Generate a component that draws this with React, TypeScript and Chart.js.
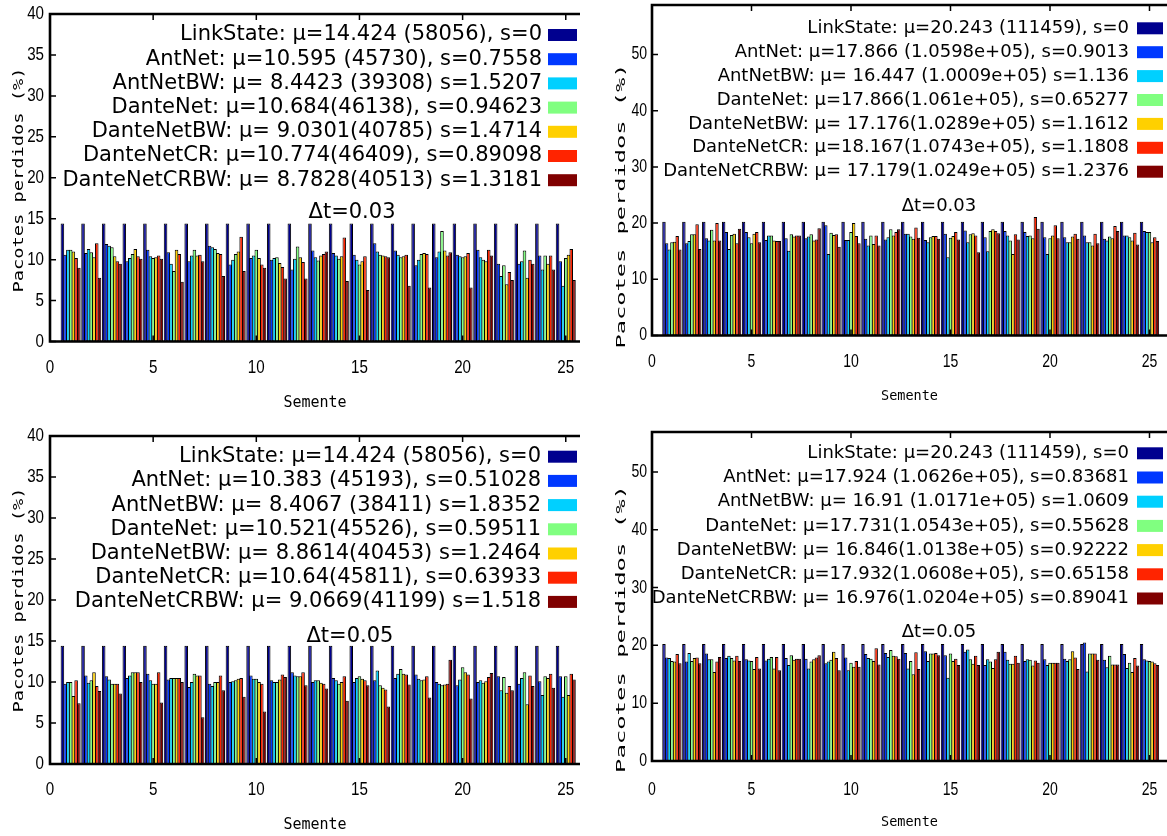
import React, { useEffect, useRef } from "react";
import { Chart, registerables } from "chart.js";
Chart.register(...registerables);

// ---------- data ----------
const seeds = [1, 2, 3, 4, 5, 6, 7, 8, 9, 10, 11, 12, 13, 14, 15, 16, 17, 18, 19, 20, 21, 22, 23, 24, 25];
const seriesColors = ["#00008f", "#0038ff", "#00d0ff", "#80ff80", "#ffd000", "#ff2400", "#800000"];
const yTitle = "Pacotes perdidos (%)";
const xTitle = "Semente";

// top-left (Δt=0.03, scale 40)
const tlLinkState = [14.424, 14.424, 14.424, 14.424, 14.424, 14.424, 14.424, 14.424, 14.424, 14.424, 14.424, 14.424, 14.424, 14.424, 14.424, 14.424, 14.424, 14.424, 14.424, 14.424, 14.424, 14.424, 14.424, 14.424, 14.424];
const tlAntNet = [10.6, 10.8, 11.9, 9.8, 11.2, 10.9, 9.8, 11.7, 9.4, 10.2, 10.0, 8.8, 11.1, 10.8, 10.6, 12.0, 11.1, 9.3, 10.3, 10.6, 11.2, 9.5, 9.5, 10.5, 9.8];
const tlAntNetBW = [11.2, 11.3, 11.7, 10.2, 10.4, 9.5, 10.5, 11.5, 10.0, 10.5, 10.2, 10.1, 10.3, 10.5, 10.0, 11.0, 10.6, 10.0, 11.0, 10.4, 10.3, 8.0, 9.8, 8.8, 6.8];
const tlDanteNet = [11.2, 10.9, 11.5, 10.7, 10.2, 8.6, 11.2, 11.3, 10.7, 11.2, 10.3, 11.6, 9.9, 10.1, 9.4, 10.6, 10.3, 10.7, 13.5, 10.3, 10.0, 9.3, 11.1, 10.5, 10.2];
const tlDanteNetBW = [11.0, 10.3, 10.4, 11.3, 10.3, 11.2, 10.5, 10.8, 11.0, 10.2, 9.6, 10.3, 10.5, 10.4, 9.8, 10.5, 10.4, 10.8, 11.1, 10.4, 9.8, 7.0, 7.8, 9.5, 10.6];
const tlDanteNetCR = [10.2, 12.0, 9.8, 10.4, 10.5, 10.7, 10.6, 10.7, 12.8, 9.4, 9.1, 9.7, 10.7, 12.7, 10.4, 10.4, 10.6, 10.7, 10.5, 10.8, 11.2, 8.5, 10.0, 10.5, 11.3];
const tlDanteNetCRBW = [9.0, 7.8, 9.5, 10.1, 10.1, 7.3, 9.8, 8.0, 8.6, 9.0, 7.7, 7.7, 11.0, 7.4, 6.3, 10.3, 6.8, 6.6, 10.9, 6.6, 10.5, 7.5, 9.5, 8.8, 7.5];
const tlLabels = [
  "LinkState: μ=14.424 (58056), s=0",
  "AntNet: μ=10.595 (45730), s=0.7558",
  "AntNetBW: μ= 8.4423 (39308) s=1.5207",
  "DanteNet: μ=10.684(46138), s=0.94623",
  "DanteNetBW: μ= 9.0301(40785) s=1.4714",
  "DanteNetCR: μ=10.774(46409), s=0.89098",
  "DanteNetCRBW: μ= 8.7828(40513) s=1.3181",
];

// top-right (Δt=0.03, scale 60)
const trLinkState = [20.243, 20.243, 20.243, 20.243, 20.243, 20.243, 20.243, 20.243, 20.243, 20.243, 20.243, 20.243, 20.243, 20.243, 20.243, 20.243, 20.243, 20.243, 20.243, 20.243, 20.243, 20.243, 20.243, 20.243, 20.243];
const trAntNet = [16.4, 16.4, 17.3, 18.4, 18.4, 17.0, 17.3, 17.3, 19.6, 17.0, 17.2, 17.1, 18.1, 17.0, 18.1, 18.7, 17.5, 18.6, 18.4, 17.5, 17.5, 17.8, 17.2, 17.8, 18.6];
const trAntNetBW = [15.3, 16.8, 16.9, 15.4, 17.5, 17.8, 15.1, 17.6, 14.5, 17.0, 16.0, 17.5, 18.1, 16.6, 13.9, 16.6, 15.0, 17.8, 17.7, 14.5, 16.6, 16.6, 16.9, 17.8, 18.4];
const trDanteNet = [16.6, 18.0, 18.8, 17.9, 16.4, 17.8, 18.0, 18.0, 18.3, 18.4, 17.8, 18.9, 17.6, 17.5, 17.4, 18.0, 18.6, 16.9, 17.8, 17.3, 16.6, 16.6, 17.6, 17.5, 18.4];
const trDanteNetBW = [16.7, 18.0, 16.9, 18.1, 18.1, 16.9, 17.6, 16.9, 17.9, 20.0, 16.3, 17.8, 17.2, 17.7, 17.7, 18.2, 18.9, 14.5, 17.3, 17.8, 17.6, 16.0, 17.3, 16.9, 16.6];
const trDanteNetCR = [17.7, 19.8, 20.0, 16.4, 18.4, 16.8, 17.8, 17.1, 18.0, 17.7, 17.8, 18.4, 19.2, 17.7, 18.4, 17.8, 18.6, 18.0, 21.1, 19.6, 18.1, 18.1, 19.5, 18.3, 17.5];
const trDanteNetCRBW = [15.3, 15.4, 16.9, 19.0, 16.6, 16.8, 17.8, 19.1, 15.8, 16.4, 16.0, 18.9, 17.4, 17.2, 17.1, 14.8, 18.2, 17.1, 19.0, 17.3, 17.2, 16.4, 18.6, 16.2, 16.8];
const trLabels = [
  "LinkState: μ=20.243 (111459), s=0",
  "AntNet: μ=17.866 (1.0598e+05), s=0.9013",
  "AntNetBW: μ= 16.447 (1.0009e+05) s=1.136",
  "DanteNet: μ=17.866(1.061e+05), s=0.65277",
  "DanteNetBW: μ= 17.176(1.0289e+05) s=1.1612",
  "DanteNetCR: μ=18.167(1.0743e+05), s=1.1808",
  "DanteNetCRBW: μ= 17.179(1.0249e+05) s=1.2376",
];

// bottom-left (Δt=0.05, scale 40)
const blLinkState = [14.424, 14.424, 14.424, 14.424, 14.424, 14.424, 14.424, 14.424, 14.424, 14.424, 14.424, 14.424, 14.424, 14.424, 14.424, 14.424, 14.424, 14.424, 14.424, 14.424, 14.424, 14.424, 14.424, 14.424, 14.424];
const blAntNet = [9.8, 10.8, 10.7, 10.5, 11.0, 10.3, 9.4, 9.8, 10.0, 10.8, 10.2, 11.2, 10.0, 10.5, 10.0, 10.2, 10.5, 10.9, 10.0, 9.6, 10.0, 10.7, 9.8, 10.1, 10.7];
const blAntNetBW = [10.0, 9.9, 10.3, 10.8, 10.2, 10.5, 10.0, 9.5, 10.1, 10.4, 10.0, 10.8, 10.2, 10.2, 10.5, 11.4, 11.0, 10.4, 9.8, 10.3, 10.2, 9.0, 10.5, 8.4, 8.2];
const blDanteNet = [10.0, 10.2, 9.8, 11.2, 9.8, 10.5, 11.0, 10.0, 10.2, 10.4, 10.0, 10.7, 10.2, 9.8, 10.7, 9.6, 11.6, 10.2, 9.6, 11.8, 9.9, 10.6, 11.2, 10.7, 10.7];
const blDanteNetBW = [8.3, 11.2, 9.8, 11.2, 9.8, 10.5, 10.8, 10.0, 10.4, 10.0, 10.3, 10.7, 9.9, 10.0, 10.4, 9.3, 11.0, 10.3, 9.7, 11.2, 10.1, 8.7, 7.3, 10.5, 8.4];
const blDanteNetCR = [10.2, 9.5, 9.8, 11.2, 11.2, 10.5, 10.8, 10.8, 10.5, 9.8, 10.9, 11.2, 9.8, 10.7, 10.2, 9.1, 10.9, 10.7, 9.8, 10.9, 10.6, 9.5, 10.8, 11.0, 11.0];
const blDanteNetCRBW = [7.4, 8.9, 8.6, 10.0, 7.5, 10.0, 5.7, 9.0, 8.2, 6.4, 10.6, 9.6, 9.2, 7.7, 9.6, 7.0, 9.7, 8.1, 12.7, 8.0, 11.1, 9.0, 9.5, 9.3, 10.3];
const blLabels = [
  "LinkState: μ=14.424 (58056), s=0",
  "AntNet: μ=10.383 (45193), s=0.51028",
  "AntNetBW: μ= 8.4067 (38411) s=1.8352",
  "DanteNet: μ=10.521(45526), s=0.59511",
  "DanteNetBW: μ= 8.8614(40453) s=1.2464",
  "DanteNetCR: μ=10.64(45811), s=0.63933",
  "DanteNetCRBW: μ= 9.0669(41199) s=1.518",
];

// bottom-right (Δt=0.05, scale 60)
const brLinkState = [20.243, 20.243, 20.243, 20.243, 20.243, 20.243, 20.243, 20.243, 20.243, 20.243, 20.243, 20.243, 20.243, 20.243, 20.243, 20.243, 20.243, 20.243, 20.243, 20.243, 20.243, 20.243, 20.243, 20.243, 20.243];
const brAntNet = [17.9, 17.2, 18.6, 17.8, 17.6, 17.4, 17.8, 17.7, 16.9, 17.9, 18.5, 18.7, 18.7, 19.0, 18.3, 18.9, 16.6, 18.9, 17.3, 17.6, 17.7, 20.5, 17.5, 18.5, 17.6];
const brAntNetBW = [17.8, 18.7, 17.6, 18.2, 17.4, 17.7, 16.6, 16.0, 17.2, 15.7, 17.8, 18.0, 16.0, 17.3, 14.4, 19.3, 17.6, 17.5, 17.6, 16.6, 17.3, 15.5, 16.2, 16.1, 17.4];
const brDanteNet = [17.3, 17.3, 17.6, 17.8, 17.3, 18.0, 18.3, 17.2, 17.5, 17.0, 17.7, 19.2, 17.3, 18.6, 18.6, 17.6, 17.2, 16.8, 17.5, 17.0, 17.6, 18.6, 18.2, 17.0, 17.3];
const brDanteNetBW = [17.2, 17.8, 15.4, 17.4, 15.9, 16.0, 17.5, 17.6, 18.9, 16.3, 17.3, 18.2, 15.0, 18.6, 17.3, 16.8, 16.1, 16.8, 16.5, 17.0, 19.0, 18.6, 16.7, 15.4, 17.2];
const brDanteNetCR = [18.5, 17.9, 17.2, 18.2, 18.0, 18.0, 17.7, 17.9, 17.8, 17.3, 19.5, 18.1, 18.8, 18.7, 17.7, 18.2, 17.6, 18.2, 17.4, 17.0, 17.9, 18.6, 16.7, 17.8, 16.9];
const brDanteNetCRBW = [16.9, 16.9, 18.0, 17.3, 16.0, 15.7, 17.7, 18.3, 15.7, 16.3, 16.7, 17.7, 15.9, 18.3, 16.6, 16.6, 18.9, 17.0, 17.0, 17.0, 15.9, 17.5, 16.7, 16.5, 16.6];
const brLabels = [
  "LinkState: μ=20.243 (111459), s=0",
  "AntNet: μ=17.924 (1.0626e+05), s=0.83681",
  "AntNetBW: μ= 16.91 (1.0171e+05) s=1.0609",
  "DanteNet: μ=17.731(1.0543e+05), s=0.55628",
  "DanteNetBW: μ= 16.846(1.0138e+05) s=0.92222",
  "DanteNetCR: μ=17.932(1.0608e+05), s=0.65158",
  "DanteNetCRBW: μ= 16.976(1.0204e+05) s=0.89041",
];

// ---------- panel layout ----------
type Panel = {
  key: string;
  left: number; top: number; w: number; h: number;
  areaTop: number; areaBottom: number; yAxisW: number; padRight: number;
  yMax: number; yStep: number; xMax: number;
  tickSize: number; tickSx: number; yLabelRight: number; xLabelY: number;
  xTitleSize: number; xTitlePadBottom: number;
  yTitleX: number; yTitleY: number; yTitleSize: number; yTitleLen: number;
  legendSize: number; legendTop: number; legendStep: number; textRight: number;
  boxLeft: number; boxW: number; boxH: number;
  dtText: string; dtX: number; dtY: number;
  labels: string[];
  series: number[][];
};

const panels: Panel[] = [
  {
    key: "tl", left: 0, top: 0, w: 580, h: 418,
    areaTop: 14, areaBottom: 341.5, yAxisW: 50, padRight: 0,
    yMax: 40, yStep: 5, xMax: 25.69,
    tickSize: 18.5, tickSx: 0.82, yLabelRight: 44, xLabelY: 368,
    xTitleSize: 15, xTitlePadBottom: 6,
    yTitleX: 19, yTitleY: 180, yTitleSize: 14, yTitleLen: 225,
    legendSize: 21, legendTop: 35, legendStep: 24.2, textRight: 542,
    boxLeft: 548, boxW: 29, boxH: 12,
    dtText: "Δt=0.03", dtX: 14.64, dtY: 15.7,
    labels: tlLabels,
    series: [tlLinkState, tlAntNet, tlAntNetBW, tlDanteNet, tlDanteNetBW, tlDanteNetCR, tlDanteNetCRBW],
  },
  {
    key: "tr", left: 590, top: 0, w: 577, h: 418,
    areaTop: 5, areaBottom: 335.5, yAxisW: 62, padRight: 0,
    yMax: 58.8, yStep: 10, xMax: 25.88,
    tickSize: 18, tickSx: 0.78, yLabelRight: 57, xLabelY: 362,
    xTitleSize: 13.5, xTitlePadBottom: 13,
    yTitleX: 32, yTitleY: 206, yTitleSize: 12.5, yTitleLen: 285,
    legendSize: 18, legendTop: 28.3, legendStep: 23.9, textRight: 539,
    boxLeft: 547, boxW: 26, boxH: 12,
    dtText: "Δt=0.03", dtX: 14.42, dtY: 22.9,
    labels: trLabels,
    series: [trLinkState, trAntNet, trAntNetBW, trDanteNet, trDanteNetBW, trDanteNetCR, trDanteNetCRBW],
  },
  {
    key: "bl", left: 0, top: 418, w: 580, h: 418,
    areaTop: 18, areaBottom: 346, yAxisW: 50, padRight: 0,
    yMax: 40, yStep: 5, xMax: 25.69,
    tickSize: 18.5, tickSx: 0.82, yLabelRight: 44, xLabelY: 372,
    xTitleSize: 15, xTitlePadBottom: 2,
    yTitleX: 19, yTitleY: 182, yTitleSize: 14, yTitleLen: 225,
    legendSize: 21, legendTop: 38.7, legendStep: 24.2, textRight: 541,
    boxLeft: 548, boxW: 29, boxH: 12,
    dtText: "Δt=0.05", dtX: 14.54, dtY: 15.6,
    labels: blLabels,
    series: [blLinkState, blAntNet, blAntNetBW, blDanteNet, blDanteNetBW, blDanteNetCR, blDanteNetCRBW],
  },
  {
    key: "br", left: 590, top: 418, w: 577, h: 418,
    areaTop: 14, areaBottom: 343, yAxisW: 62, padRight: 0,
    yMax: 56.9, yStep: 10, xMax: 25.88,
    tickSize: 18, tickSx: 0.78, yLabelRight: 57, xLabelY: 372,
    xTitleSize: 13.5, xTitlePadBottom: 5,
    yTitleX: 32, yTitleY: 211, yTitleSize: 12.5, yTitleLen: 288,
    legendSize: 18, legendTop: 35.3, legendStep: 24.2, textRight: 539,
    boxLeft: 547, boxW: 26, boxH: 12,
    dtText: "Δt=0.05", dtX: 14.42, dtY: 22.3,
    labels: brLabels,
    series: [brLinkState, brAntNet, brAntNetBW, brDanteNet, brDanteNetBW, brDanteNetCR, brDanteNetCRBW],
  },
];

const TICK_FONT = "'Liberation Sans', Arial, sans-serif";
const KEY_FONT = "'DejaVu Sans', sans-serif";
const MONO_FONT = "'DejaVu Sans Mono', monospace";

function drawSquished(ctx: CanvasRenderingContext2D, text: string, x: number, y: number, sx: number, align: CanvasTextAlign) {
  ctx.save();
  ctx.translate(x, y);
  ctx.scale(sx, 1);
  ctx.textAlign = align;
  ctx.fillText(text, 0, 0);
  ctx.restore();
}

function makeDecor(p: Panel) {
  return {
    id: "decor" + p.key,
    afterDatasetsDraw(chart: any) {
      const ctx = chart.ctx as CanvasRenderingContext2D;
      const a = chart.chartArea;
      const xs = chart.scales.x;
      const ys = chart.scales.y;
      ctx.save();
      // inward tick marks
      ctx.strokeStyle = "#000";
      ctx.lineWidth = 1.5;
      ctx.beginPath();
      for (const t of xs.ticks) {
        const px = xs.getPixelForValue(t.value);
        ctx.moveTo(px, a.bottom);
        ctx.lineTo(px, a.bottom - 6);
        ctx.moveTo(px, a.top);
        ctx.lineTo(px, a.top + 6);
      }
      for (const t of ys.ticks) {
        const py = ys.getPixelForValue(t.value);
        ctx.moveTo(a.left, py);
        ctx.lineTo(a.left + 6, py);
      }
      ctx.stroke();
      // frame (top, left, bottom)
      ctx.lineWidth = 2.6;
      ctx.beginPath();
      ctx.moveTo(a.right, a.top);
      ctx.lineTo(a.left, a.top);
      ctx.lineTo(a.left, a.bottom);
      ctx.lineTo(a.right, a.bottom);
      ctx.stroke();
      // tick labels (narrow face)
      ctx.fillStyle = "#000";
      ctx.font = `${p.tickSize}px ${TICK_FONT}`;
      ctx.textBaseline = "middle";
      for (const t of xs.ticks) {
        drawSquished(ctx, String(t.value), xs.getPixelForValue(t.value), p.xLabelY, p.tickSx, "center");
      }
      for (const t of ys.ticks) {
        drawSquished(ctx, String(t.value), p.yLabelRight, ys.getPixelForValue(t.value), p.tickSx, "right");
      }
      // key
      ctx.font = `${p.legendSize}px ${KEY_FONT}`;
      ctx.textBaseline = "middle";
      chart.data.datasets.forEach((ds: any, i: number) => {
        const cy = p.legendTop + i * p.legendStep;
        ctx.fillStyle = "#000";
        ctx.textAlign = "right";
        ctx.fillText(ds.label, p.textRight, cy);
        ctx.fillStyle = ds.backgroundColor;
        ctx.fillRect(p.boxLeft, cy - p.boxH / 2, p.boxW, p.boxH);
      });
      // Δt label
      ctx.fillStyle = "#000";
      ctx.textAlign = "center";
      ctx.fillText(p.dtText, xs.getPixelForValue(p.dtX), ys.getPixelForValue(p.dtY));
      // y-axis title (stretched along its length)
      ctx.save();
      ctx.translate(p.yTitleX, p.yTitleY);
      ctx.rotate(-Math.PI / 2);
      ctx.font = `${p.yTitleSize}px ${MONO_FONT}`;
      const w = ctx.measureText(yTitle).width;
      ctx.scale(p.yTitleLen / w, 1);
      ctx.textAlign = "center";
      ctx.textBaseline = "middle";
      ctx.fillText(yTitle, 0, 0);
      ctx.restore();
      ctx.restore();
    },
  };
}

function PanelChart({ p }: { p: Panel }) {
  const ref = useRef<HTMLCanvasElement | null>(null);
  useEffect(() => {
    if (!ref.current) return;
    const chart = new Chart(ref.current, {
      type: "bar",
      data: {
        labels: seeds,
        datasets: p.series.map((vals, i) => ({
          label: p.labels[i],
          data: vals,
          backgroundColor: seriesColors[i],
          borderColor: "#000",
          borderWidth: 1,
          borderSkipped: false,
          inflateAmount: 0,
          categoryPercentage: 0.93,
          barPercentage: 1.3,
        })),
      },
      options: {
        responsive: false,
        maintainAspectRatio: false,
        devicePixelRatio: 1,
        animation: false,
        layout: { padding: { top: p.areaTop, right: p.padRight, bottom: 0, left: 0 } },
        plugins: { legend: { display: false }, tooltip: { enabled: false } },
        scales: {
          x: {
            type: "linear",
            offset: false,
            min: 0,
            max: p.xMax,
            afterFit: (s: any) => {
              s.height = p.h - p.areaBottom;
              s.paddingLeft = 0;
              s.paddingRight = 0;
            },
            ticks: {
              display: false,
              stepSize: 5,
              includeBounds: false,
              autoSkip: false,
              maxRotation: 0,
              padding: 0,
            },
            grid: { display: false, drawTicks: false, offset: false },
            border: { display: false },
            title: {
              display: true,
              text: xTitle,
              color: "#000",
              font: { family: MONO_FONT, size: p.xTitleSize },
              padding: { top: 0, bottom: p.xTitlePadBottom },
            },
          },
          y: {
            type: "linear",
            min: 0,
            max: p.yMax,
            afterFit: (s: any) => {
              s.width = p.yAxisW;
              s.paddingTop = 0;
              s.paddingBottom = 0;
            },
            ticks: {
              display: false,
              stepSize: p.yStep,
              includeBounds: false,
              padding: 0,
            },
            grid: { display: false, drawTicks: false },
            border: { display: false },
          },
        },
      } as any,
      plugins: [makeDecor(p)],
    });
    return () => chart.destroy();
  }, [p]);
  return (
    <canvas
      ref={ref}
      width={p.w}
      height={p.h}
      style={{ position: "absolute", left: p.left, top: p.top, width: p.w, height: p.h }}
    />
  );
}

export default function App() {
  return (
    <div
      style={{
        position: "absolute",
        left: 0,
        top: 0,
        width: 1167,
        height: 836,
        background: "#fff",
        overflow: "hidden",
      }}
    >
      {panels.map((p) => (
        <PanelChart key={p.key} p={p} />
      ))}
    </div>
  );
}
